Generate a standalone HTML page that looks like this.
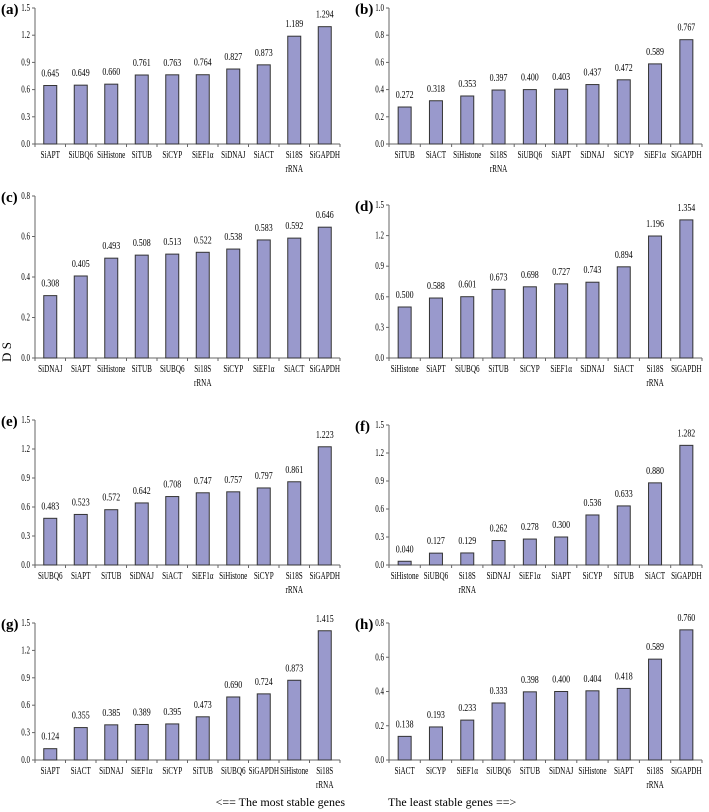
<!DOCTYPE html>
<html><head><meta charset="utf-8">
<style>
body{margin:0;background:#fff;}
svg{display:block;font-family:"Liberation Serif",serif;}
</style></head>
<body>
<svg id="chart" width="709" height="812" viewBox="0 0 709 812" xmlns="http://www.w3.org/2000/svg">
<text x="11" y="352" font-size="13" transform="rotate(-90 11 352)" text-anchor="middle">D S</text>
<text x="345" y="806" font-size="12" text-anchor="end">&lt;== The most stable genes</text>
<text x="388" y="806" font-size="12">The least stable genes ==&gt;</text>
</svg>
<script>
const catsA=["SiAPT","SiUBQ6","SiHistone","SiTUB","SiCYP","SiEF1α","SiDNAJ","SiACT","Si18S|rRNA","SiGAPDH"];
const valsA=[0.645,0.649,0.660,0.761,0.763,0.764,0.827,0.873,1.189,1.294];
const catsB=["SiTUB","SiACT","SiHistone","Si18S|rRNA","SiUBQ6","SiAPT","SiDNAJ","SiCYP","SiEF1α","SiGAPDH"];
const valsB=[0.272,0.318,0.353,0.397,0.400,0.403,0.437,0.472,0.589,0.767];
const catsC=["SiDNAJ","SiAPT","SiHistone","SiTUB","SiUBQ6","Si18S|rRNA","SiCYP","SiEF1α","SiACT","SiGAPDH"];
const valsC=[0.308,0.405,0.493,0.508,0.513,0.522,0.538,0.583,0.592,0.646];
const catsD=["SiHistone","SiAPT","SiUBQ6","SiTUB","SiCYP","SiEF1α","SiDNAJ","SiACT","Si18S|rRNA","SiGAPDH"];
const valsD=[0.500,0.588,0.601,0.673,0.698,0.727,0.743,0.894,1.196,1.354];
const catsE=["SiUBQ6","SiAPT","SiTUB","SiDNAJ","SiACT","SiEF1α","SiHistone","SiCYP","Si18S|rRNA","SiGAPDH"];
const valsE=[0.483,0.523,0.572,0.642,0.708,0.747,0.757,0.797,0.861,1.223];
const catsF=["SiHistone","SiUBQ6","Si18S|rRNA","SiDNAJ","SiEF1α","SiAPT","SiCYP","SiTUB","SiACT","SiGAPDH"];
const valsF=[0.040,0.127,0.129,0.262,0.278,0.300,0.536,0.633,0.880,1.282];
const catsG=["SiAPT","SiACT","SiDNAJ","SiEF1α","SiCYP","SiTUB","SiUBQ6","SiGAPDH","SiHistone","Si18S|rRNA"];
const valsG=[0.124,0.355,0.385,0.389,0.395,0.473,0.690,0.724,0.873,1.415];
const catsH=["SiACT","SiCYP","SiEF1α","SiUBQ6","SiTUB","SiDNAJ","SiHistone","SiAPT","Si18S|rRNA","SiGAPDH"];
const valsH=[0.138,0.193,0.233,0.333,0.398,0.400,0.404,0.418,0.589,0.760];
const ticks15=["0.0","0.3","0.6","0.9","1.2","1.5"];
const ticks10=["0.0","0.2","0.4","0.6","0.8","1.0"];
const ticks08=["0.0","0.2","0.4","0.6","0.8"];

const NS="http://www.w3.org/2000/svg";
const svg=document.getElementById('chart');
function mk(tag,attrs,parent){const e=document.createElementNS(NS,tag);for(const k in attrs)e.setAttribute(k,attrs[k]);(parent||svg).appendChild(e);return e;}
function squeeze(t,f){const w=t.getComputedTextLength();if(w>0){const nw=w*f;t.setAttribute('textLength',nw);t.setAttribute('lengthAdjust','spacingAndGlyphs');}}

const panels=[
 {id:"a",cats:catsA,vals:valsA,ticks:ticks15,x0:35,x1:340,top:8,bot:144},
 {id:"b",cats:catsB,vals:valsB,ticks:ticks10,x0:389,x1:702,top:8,bot:144},
 {id:"c",cats:catsC,vals:valsC,ticks:ticks08,x0:35,x1:340,top:196,bot:358},
 {id:"d",cats:catsD,vals:valsD,ticks:ticks15,x0:389,x1:702,top:205,bot:358},
 {id:"e",cats:catsE,vals:valsE,ticks:ticks15,x0:35,x1:340,top:420,bot:565},
 {id:"f",cats:catsF,vals:valsF,ticks:ticks15,x0:389,x1:702,top:425,bot:565},
 {id:"g",cats:catsG,vals:valsG,ticks:ticks15,x0:35,x1:340,top:623,bot:760},
 {id:"h",cats:catsH,vals:valsH,ticks:ticks08,x0:389,x1:702,top:623,bot:760}
];
panels.forEach(p=>{
  const g=mk('g',{});
  
  
  const ymax=parseFloat(p.ticks[p.ticks.length-1]);
  const y=v=>p.bot-(v/ymax)*(p.bot-p.top);
  const slot=(p.x1-p.x0)/p.cats.length;
  const xc=i=>p.x0+slot*(i+0.5);
  const lab=mk('text',{x:p.x0-34,y:p.top+6,'font-size':15,'font-weight':'bold'},g);
  lab.textContent='('+p.id+')';
  
  
  mk('line',{x1:p.x0,y1:p.top,x2:p.x0,y2:p.bot,stroke:'#666','stroke-width':1},g);
  mk('line',{x1:p.x0,y1:p.bot,x2:p.x1,y2:p.bot,stroke:'#666','stroke-width':1},g);
  p.ticks.forEach(t=>{
    const yy=y(parseFloat(t));
    mk('line',{x1:p.x0-3,y1:yy,x2:p.x0,y2:yy,stroke:'#666'},g);
    const tt=mk('text',{x:p.x0-5,y:yy+3,'font-size':10,'text-anchor':'end'},g);
    tt.textContent=t;
    
    
    squeeze(tt,0.7);
  });
  for(let i=0;i<=p.cats.length;i++){
    const xx=p.x0+slot*i;
    mk('line',{x1:xx,y1:p.bot,x2:xx,y2:p.bot+3,stroke:'#666'},g);
  }
  p.cats.forEach((c,i)=>{
    const v=p.vals[i];const bw=13;
    const r=mk('rect',{x:xc(i)-bw/2,y:y(v),width:bw,height:p.bot-y(v),fill:'#9999cc',stroke:'#333','stroke-width':1},g);
    
    
    const vt=mk('text',{x:xc(i),y:y(v)-9,'font-size':11,'text-anchor':'middle'},g);
    vt.textContent=v.toFixed(3);
    
    
    squeeze(vt,0.72);
    c.split('|').forEach((part,k)=>{
      const ct=mk('text',{x:xc(i),y:p.bot+14+k*14,'font-size':10.5,'text-anchor':'middle'},g);
      ct.textContent=part;
      
      
      squeeze(ct,0.68);
    });
  });
});
</script>
</body></html>
